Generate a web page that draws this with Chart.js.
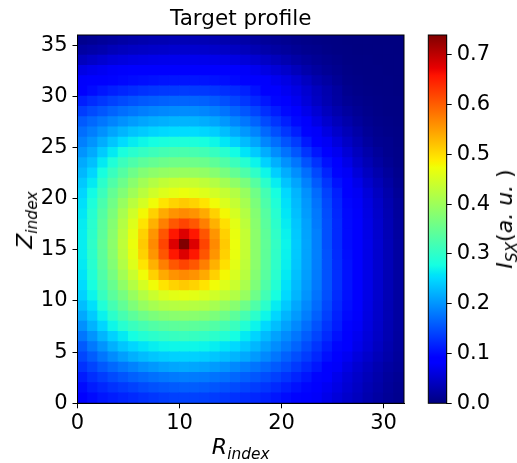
<!DOCTYPE html>
<html>
<head>
<meta charset="utf-8">
<title>Target profile</title>
<script src="https://cdn.jsdelivr.net/npm/chart.js@4"></script>
<style>
  html, body { margin: 0; padding: 0; background: #fff; }
  #wrap { position: relative; width: 517px; height: 463px; overflow: hidden; font-family: "DejaVu Sans", sans-serif; color: #000; }
  #mainBox { position: absolute; left: 0; top: 0; width: 517px; height: 463px; }
  #barBox { position: absolute; left: 400px; top: 0; width: 117px; height: 463px; }
  canvas { display: block; }
  .axisLabel { position: absolute; font-size: 22px; line-height: 24px; white-space: nowrap; }
  .axisLabel sub { font-size: 70%; line-height: 0; }
  #xLabel { left: 240.7px; top: 435px; transform: translateX(-50%); }
  #yLabel { left: 25px; top: 220px; transform: translate(-50%, -50%) rotate(-90deg); }
  #cbLabel { left: 505px; top: 219px; transform: translate(-50%, -50%) rotate(-90deg); }
</style>
</head>
<body>
<div id="wrap">
  <div id="mainBox"><canvas id="profileChart" width="517" height="463"></canvas></div>
  <div id="barBox"><canvas id="colorbarChart" width="117" height="463"></canvas></div>
  <div class="axisLabel" id="xLabel"><i>R<sub>index</sub></i></div>
  <div class="axisLabel" id="yLabel"><i>Z<sub>index</sub></i></div>
  <div class="axisLabel" id="cbLabel"><i>I<sub>SX</sub></i>(<i>a. u. </i>)</div>
</div>
<script>
// intensity per cell in 1/1000 a.u., one array per Z index, columns are R index 0..31
const row0 = [88,100,108,113,118,122,127,132,136,139,140,140,138,135,132,128,124,120,115,108,100,94,88,78,68,58,48,40,30,22,15,10];
const row1 = [100,112,120,128,134,140,146,151,155,158,160,160,158,154,150,146,141,136,130,122,113,104,96,86,74,64,53,44,33,25,17,11];
const row2 = [112,126,136,146,154,162,168,174,178,181,183,182,180,176,172,167,161,155,148,139,129,118,107,95,82,69,57,47,37,28,19,13];
const row3 = [128,142,156,168,178,187,196,203,209,213,215,213,210,205,199,192,184,177,168,158,147,134,121,108,92,78,64,52,41,31,22,16];
const row4 = [143,160,178,194,208,220,229,236,241,244,245,244,241,236,230,224,215,204,192,178,163,149,135,120,103,87,73,60,48,37,27,18];
const row5 = [158,180,200,220,236,248,258,265,270,272,272,272,270,265,258,250,238,225,210,195,180,165,148,130,112,96,82,68,55,42,30,20];
const row6 = [178,200,224,245,262,278,290,298,304,308,310,308,304,298,290,278,262,246,228,210,194,178,160,142,122,104,88,72,58,45,32,21];
const row7 = [197,222,248,272,294,310,322,332,338,342,344,342,338,332,322,310,290,270,250,230,210,192,172,152,130,112,94,77,61,47,33,22];
const row8 = [215,240,268,298,322,342,358,370,378,382,384,382,378,370,358,342,322,298,272,248,224,204,184,162,138,116,98,80,63,48,34,22];
const row9 = [230,255,288,320,346,372,394,408,418,422,424,422,418,408,394,380,358,330,298,264,238,214,192,170,144,120,102,83,65,49,34,22];
const row10 = [245,270,308,340,365,395,420,440,455,462,465,462,455,445,432,418,395,358,318,280,250,224,200,176,150,124,104,85,66,50,35,22];
const row11 = [252,280,320,352,388,420,450,475,495,508,515,508,495,475,458,440,412,372,330,290,256,228,204,180,152,126,105,86,67,50,35,22];
const row12 = [258,288,330,365,405,440,475,510,540,558,565,558,540,510,478,452,424,378,338,296,262,232,207,182,152,126,105,86,67,51,35,22];
const row13 = [262,294,338,376,418,458,495,535,574,605,620,605,574,535,498,462,430,384,342,300,266,236,210,184,152,125,104,85,67,51,36,22];
const row14 = [265,298,342,382,426,466,510,557,607,655,680,655,607,557,510,468,434,385,344,302,268,238,211,185,152,124,102,84,67,51,36,22];
const row15 = [265,300,345,385,430,470,515,565,620,680,740,680,620,565,515,470,435,385,345,305,270,240,212,185,150,122,100,84,68,52,36,22];
const row16 = [265,298,342,382,426,466,510,557,607,655,680,655,607,557,510,468,434,385,344,302,268,238,211,185,150,122,100,83,67,51,35,21];
const row17 = [264,296,340,378,420,458,495,535,574,605,620,605,574,535,498,462,428,382,340,298,264,236,210,182,150,122,99,82,66,50,34,20];
const row18 = [260,292,334,370,410,445,478,510,540,558,565,558,540,510,478,450,420,378,336,294,260,232,206,180,148,120,98,80,64,48,33,19];
const row19 = [255,285,325,360,395,425,450,475,495,508,515,508,495,475,455,435,408,370,328,288,256,228,203,176,145,118,96,78,62,46,31,18];
const row20 = [248,275,312,348,375,402,425,445,458,465,470,465,458,448,435,420,395,360,320,280,250,224,198,170,140,114,92,75,58,42,28,15];
const row21 = [238,262,298,330,356,382,404,420,432,438,440,438,430,420,405,388,368,336,298,265,235,212,186,158,130,105,85,68,50,36,23,12];
const row22 = [226,248,280,310,335,358,376,386,392,395,396,395,390,380,366,348,328,302,272,243,218,196,172,145,118,95,76,58,42,29,18,9];
const row23 = [216,232,262,288,312,328,342,350,356,360,360,358,354,344,330,312,292,270,245,220,198,178,152,128,104,84,66,48,34,22,13,7];
const row24 = [200,216,240,262,282,296,306,314,320,324,325,323,318,308,294,276,258,240,218,195,175,155,130,108,90,72,55,40,27,17,10,6];
const row25 = [185,200,218,236,252,264,272,278,282,285,285,284,280,272,260,244,228,212,190,172,153,135,110,90,75,60,45,32,20,12,9,5];
const row26 = [172,184,198,212,224,234,240,246,250,252,252,252,248,242,230,216,202,188,168,150,132,114,94,78,62,48,36,25,15,9,6,4];
const row27 = [158,168,178,188,198,206,212,217,220,223,223,222,218,212,202,190,178,164,146,130,114,98,80,65,50,38,28,18,11,7,5,3];
const row28 = [136,146,155,164,172,178,184,188,191,193,194,193,190,184,176,165,154,142,126,112,98,84,68,54,40,29,20,13,8,5,3,2];
const row29 = [114,124,132,140,146,152,157,160,163,165,165,164,162,157,150,142,132,120,108,96,84,72,58,44,32,22,14,9,6,4,3,2];
const row30 = [90,100,108,114,119,124,128,131,133,134,135,134,133,130,126,122,116,104,92,82,73,64,52,40,30,20,10,6,4,3,2,1];
const row31 = [80,85,90,94,97,100,102,104,106,107,107,107,106,104,102,98,94,88,80,72,64,54,42,30,22,14,7,5,3,2,2,1];
const row32 = [65,70,74,78,80,83,85,87,88,90,90,90,89,87,85,82,78,72,64,56,48,38,28,20,14,9,5,3,2,2,1,1];
const row33 = [40,46,52,58,61,64,66,68,69,70,70,70,69,68,66,63,58,52,45,38,31,24,18,13,9,6,3,2,2,1,1,1];
const row34 = [22,26,30,36,40,43,45,47,48,50,50,50,49,47,45,42,38,32,27,22,18,14,10,8,5,3,2,1,1,1,1,0];
const row35 = [10,13,17,20,24,27,30,32,33,35,35,35,34,32,30,28,25,21,17,14,11,8,6,4,3,2,1,1,1,0,0,0];

const rows = [row0,row1,row2,row3,row4,row5,row6,row7,row8,row9,row10,row11,row12,row13,row14,row15,row16,row17,
  row18,row19,row20,row21,row22,row23,row24,row25,row26,row27,row28,row29,row30,row31,row32,row33,row34,row35];

const xTicks = [0, 10, 20, 30];
const yTicks = [0, 5, 10, 15, 20, 25, 30, 35];
const cbTicks = [0, 0.1, 0.2, 0.3, 0.4, 0.5, 0.6, 0.7];
const vMax = 0.74;
const tickFont = { family: '"DejaVu Sans"', size: 21 };

// matplotlib jet, piecewise linear
const jetStops = [0, 0.11, 0.125, 0.34, 0.35, 0.375, 0.64, 0.65, 0.66, 0.89, 0.91, 1];
function lerpChannel(t, pts) {
  for (let i = 1; i < pts.length; i++) {
    if (t <= pts[i][0]) {
      const a = pts[i - 1], b = pts[i];
      return a[1] + (b[1] - a[1]) * (t - a[0]) / (b[0] - a[0]);
    }
  }
  return pts[pts.length - 1][1];
}
function jet(t) {
  t = Math.min(1, Math.max(0, t));
  const r = lerpChannel(t, [[0, 0], [0.35, 0], [0.66, 1], [0.89, 1], [1, 0.5]]);
  const g = lerpChannel(t, [[0, 0], [0.125, 0], [0.375, 1], [0.64, 1], [0.91, 0], [1, 0]]);
  const b = lerpChannel(t, [[0, 0.5], [0.11, 1], [0.34, 1], [0.65, 0], [1, 0]]);
  return `rgb(${Math.round(r * 255)},${Math.round(g * 255)},${Math.round(b * 255)})`;
}

// top and right edges of the axes box
const frame = {
  id: 'frame',
  afterDraw(chart) {
    const a = chart.chartArea, c = chart.ctx;
    c.save();
    c.strokeStyle = '#000';
    c.lineWidth = 1;
    c.strokeRect(a.left, a.top, a.right - a.left, a.bottom - a.top);
    c.restore();
  }
};

function fixedTicks(list) {
  return function (scale) { scale.ticks = list.map(v => ({ value: v })); };
}

// ==================================================
// heat map, one floating-bar dataset per Z index
// ==================================================
new Chart(document.getElementById('profileChart'), {
  type: 'bar',
  data: {
    datasets: rows.map((row, z) => ({
      label: 'Z ' + z,
      data: row.map((v, r) => ({ x: r + 0.5, y: [z, z + 1] })),
      backgroundColor: row.map(v => jet(v / 1000 / vMax)),
      borderWidth: 0,
      inflateAmount: 0.6,
      grouped: false,
      barPercentage: 1,
      categoryPercentage: 1
    }))
  },
  plugins: [frame],
  options: {
    responsive: false,
    animation: false,
    events: [],
    layout: { padding: { left: 0, right: 113, top: 0, bottom: 0 } },
    plugins: {
      legend: { display: false },
      tooltip: { enabled: false },
      title: {
        display: true,
        text: 'Target profile',
        color: '#000',
        fullSize: false,
        font: { family: '"DejaVu Sans"', size: 21.5, weight: 'normal', lineHeight: 1.2 },
        padding: { top: 6.4, bottom: 2.8 }
      }
    },
    scales: {
      x: {
        type: 'linear',
        min: 0,
        max: 32,
        offset: false,
        afterBuildTicks: fixedTicks(xTicks),
        afterFit: s => { s.height = 59.7; },
        grid: { offset: false, drawOnChartArea: false, tickLength: 5, color: '#000' },
        border: { display: true, color: '#000' },
        ticks: { color: '#000', font: tickFont, padding: 3, maxRotation: 0, autoSkip: false }
      },
      y: {
        type: 'linear',
        min: 0,
        max: 36,
        afterBuildTicks: fixedTicks(yTicks),
        afterFit: s => { s.width = 77.5; },
        grid: { drawOnChartArea: false, tickLength: 5, color: '#000' },
        border: { display: true, color: '#000' },
        ticks: { color: '#000', font: tickFont, padding: 5, autoSkip: false }
      }
    }
  }
});

// ==================================================
// colour bar
// ==================================================
new Chart(document.getElementById('colorbarChart'), {
  type: 'bar',
  data: {
    labels: ['bar'],
    datasets: [{
      label: 'I_SX',
      data: [[0, vMax]],
      borderWidth: 0,
      barPercentage: 1,
      categoryPercentage: 1,
      backgroundColor: function (context) {
        const area = context.chart.chartArea;
        if (!area) return '#000';
        const g = context.chart.ctx.createLinearGradient(0, area.bottom, 0, area.top);
        jetStops.forEach(s => g.addColorStop(s, jet(s)));
        return g;
      }
    }]
  },
  plugins: [frame],
  options: {
    responsive: false,
    animation: false,
    events: [],
    layout: { padding: { left: 28.3, right: 0, top: 35, bottom: 59.7 } },
    plugins: { legend: { display: false }, tooltip: { enabled: false } },
    scales: {
      x: { display: false },
      y: {
        position: 'right',
        min: 0,
        max: vMax,
        afterBuildTicks: fixedTicks(cbTicks),
        afterFit: s => { s.width = 70.3; },
        grid: { drawOnChartArea: false, tickLength: 5, color: '#000' },
        border: { display: true, color: '#000' },
        ticks: {
          color: '#000',
          font: tickFont,
          padding: 5,
          autoSkip: false,
          callback: v => v.toFixed(1)
        }
      }
    }
  }
});
</script>
</body>
</html>
